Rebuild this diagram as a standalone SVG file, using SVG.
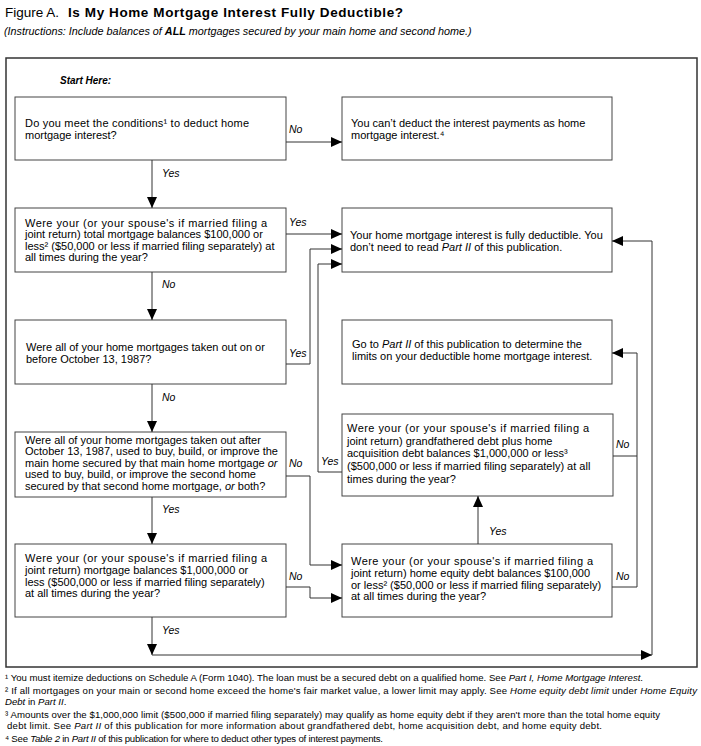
<svg xmlns="http://www.w3.org/2000/svg" width="701" height="746" viewBox="0 0 701 746">
<style>
text{font-family:"Liberation Sans",Arial,sans-serif;fill:#000}
.t{font-size:11px}
.sp{letter-spacing:0.45px}
.lbl{font-size:10.5px;font-style:italic}
.fn{font-size:9.6px}
.box{fill:#fff;stroke:#444;stroke-width:1}
.c{fill:none;stroke:#333;stroke-width:1}
.it{font-style:italic}
</style>
<defs>
<marker id="ah" viewBox="0 0 11 10" refX="11" refY="5" markerWidth="11" markerHeight="10" markerUnits="userSpaceOnUse" orient="auto">
<path d="M0,0 L11,5 L0,10 z" fill="#000"/>
</marker>
</defs>
<rect width="701" height="746" fill="#fff"/>
<text x="5" y="17" font-size="13.5">Figure A.</text>
<text x="68" y="17" font-size="13.5" font-weight="bold" textLength="335">Is My Home Mortgage Interest Fully Deductible?</text>
<text x="4" y="35" font-size="10.8" font-style="italic">(Instructions: Include balances of <tspan font-weight="bold">ALL</tspan> mortgages secured by your main home and second home.)</text>
<rect x="6" y="58" width="691" height="609" fill="none" stroke="#333" stroke-width="1.5"/>
<text x="60" y="84" font-size="10" font-weight="bold" font-style="italic">Start Here:</text>

<g id="q1">
<rect class="box" x="15" y="97" width="271" height="63"/>
<text class="t" x="25" y="127" letter-spacing="0.2">Do you meet the conditions¹ to deduct home</text>
<text class="t" x="25" y="139">mortgage interest?</text>
</g>
<g id="cant">
<rect class="box" x="342" y="97" width="270" height="63"/>
<text class="t" x="351" y="127">You can’t deduct the interest payments as home</text>
<text class="t" x="351" y="139">mortgage interest.⁴</text>
</g>
<g id="q2">
<rect class="box" x="15" y="208" width="271" height="64"/>
<text class="t sp" x="25" y="227">Were your (or your spouse's if married filing a</text>
<text class="t" x="25" y="238">joint return) total mortgage balances $100,000 or</text>
<text class="t" x="25" y="250">less² ($50,000 or less if married filing separately) at</text>
<text class="t" x="25" y="261">all times during the year?</text>
</g>
<g id="full">
<rect class="box" x="342" y="208" width="270" height="64"/>
<text class="t" x="350" y="239">Your home mortgage interest is fully deductible. You</text>
<text class="t" x="350" y="251">don’t need to read <tspan class="it">Part II</tspan> of this publication.</text>
</g>
<g id="q3">
<rect class="box" x="15" y="320" width="271" height="64"/>
<text class="t" x="26" y="351">Were all of your home mortgages taken out on or</text>
<text class="t" x="26" y="363">before October 13, 1987?</text>
</g>
<g id="part2">
<rect class="box" x="342" y="320" width="270" height="64"/>
<text class="t" x="352" y="348">Go to <tspan class="it">Part II</tspan> of this publication to determine the</text>
<text class="t" x="352" y="360">limits on your deductible home mortgage interest.</text>
</g>
<g id="q4">
<rect class="box" x="15" y="432" width="271" height="65"/>
<text class="t" x="25" y="444">Were all of your home mortgages taken out after</text>
<text class="t" x="25" y="455">October 13, 1987, used to buy, build, or improve the</text>
<text class="t" x="25" y="467">main home secured by that main home mortgage <tspan class="it">or</tspan></text>
<text class="t" x="25" y="478">used to buy, build, or improve the second home</text>
<text class="t" x="25" y="490">secured by that second home mortgage, <tspan class="it">or</tspan> both?</text>
</g>
<g id="grand">
<rect class="box" x="342" y="414" width="271" height="82"/>
<text class="t sp" x="347" y="432">Were your (or your spouse's if married filing a</text>
<text class="t" x="347" y="445">joint return) grandfathered debt plus home</text>
<text class="t" x="347" y="457">acquisition debt balances $1,000,000 or less³</text>
<text class="t" x="347" y="470">($500,000 or less if married filing separately) at all</text>
<text class="t" x="347" y="483">times during the year?</text>
</g>
<g id="q5">
<rect class="box" x="15" y="544" width="271" height="73"/>
<text class="t sp" x="25" y="562">Were your (or your spouse's if married filing a</text>
<text class="t" x="25" y="574">joint return) mortgage balances $1,000,000 or</text>
<text class="t" x="25" y="586">less ($500,000 or less if married filing separately)</text>
<text class="t" x="25" y="597">at all times during the year?</text>
</g>
<g id="equity">
<rect class="box" x="342" y="544" width="270" height="73"/>
<text class="t sp" x="351" y="565">Were your (or your spouse's if married filing a</text>
<text class="t" x="351" y="577">joint return) home equity debt balances $100,000</text>
<text class="t" x="351" y="589">or less² ($50,000 or less if married filing separately)</text>
<text class="t" x="351" y="600">at all times during the year?</text>
</g>

<g id="connectors">
<path class="c" d="M286,142 H342" marker-end="url(#ah)"/>
<path class="c" d="M152,160 V208" marker-end="url(#ah)"/>
<path class="c" d="M286,234 H342" marker-end="url(#ah)"/>
<path class="c" d="M152,272 V320" marker-end="url(#ah)"/>
<path class="c" d="M286,364 H310 V249 H342" marker-end="url(#ah)"/>
<path class="c" d="M152,384 V432" marker-end="url(#ah)"/>
<path class="c" d="M286,476 H310 V565 H342" marker-end="url(#ah)"/>
<path class="c" d="M152,497 V544" marker-end="url(#ah)"/>
<path class="c" d="M286,587 H310 V598 H342" marker-end="url(#ah)"/>
<path class="c" d="M152,617 V655" marker-end="url(#ah)"/>
<path class="c" d="M152,655 H652" marker-end="url(#ah)"/>
<path class="c" d="M652,655 V241 H612" marker-end="url(#ah)"/>
<path class="c" d="M478,544 V496" marker-end="url(#ah)"/>
<path class="c" d="M612,587 H637 V353 H612" marker-end="url(#ah)"/>
<path class="c" d="M613,456 H637"/>
<path class="c" d="M342,472 H318 V264 H342" marker-end="url(#ah)"/>
<text class="lbl" x="289" y="133">No</text>
<text class="lbl" x="162" y="177">Yes</text>
<text class="lbl" x="289" y="226">Yes</text>
<text class="lbl" x="162" y="288">No</text>
<text class="lbl" x="289" y="357">Yes</text>
<text class="lbl" x="162" y="401">No</text>
<text class="lbl" x="289" y="467">No</text>
<text class="lbl" x="162" y="513">Yes</text>
<text class="lbl" x="289" y="580">No</text>
<text class="lbl" x="162" y="634">Yes</text>
<text class="lbl" x="616" y="448">No</text>
<text class="lbl" x="321" y="465">Yes</text>
<text class="lbl" x="489" y="535">Yes</text>
<text class="lbl" x="616" y="580">No</text>
</g>

<g id="footnotes">
<text class="fn" x="5" y="681" textLength="638">¹ You must itemize deductions on Schedule A (Form 1040). The loan must be a secured debt on a qualified home. See  <tspan class="it">Part I, Home Mortgage Interest</tspan>.</text>
<text class="fn" x="5" y="694" textLength="692">² If all mortgages on your main or second home exceed the home's fair market value, a lower limit may apply. See <tspan class="it">Home equity debt limit</tspan> under <tspan class="it">Home Equity</tspan></text>
<text class="fn" x="5" y="705"><tspan class="it">Debt</tspan> in <tspan class="it">Part II</tspan>.</text>
<text class="fn" x="5" y="718" textLength="655">³ Amounts over the $1,000,000 limit ($500,000 if married filing separately) may qualify as home equity debt if they aren't more than the total home equity</text>
<text class="fn" x="7" y="729" textLength="595">debt limit. See <tspan class="it">Part II</tspan> of this publication for more information about grandfathered debt, home acquisition debt, and home equity debt.</text>
<text class="fn" x="5" y="742" textLength="378">⁴ See <tspan class="it">Table 2</tspan> in <tspan class="it">Part II</tspan> of this publication for where to deduct other types of interest payments.</text>
</g>
</svg>
